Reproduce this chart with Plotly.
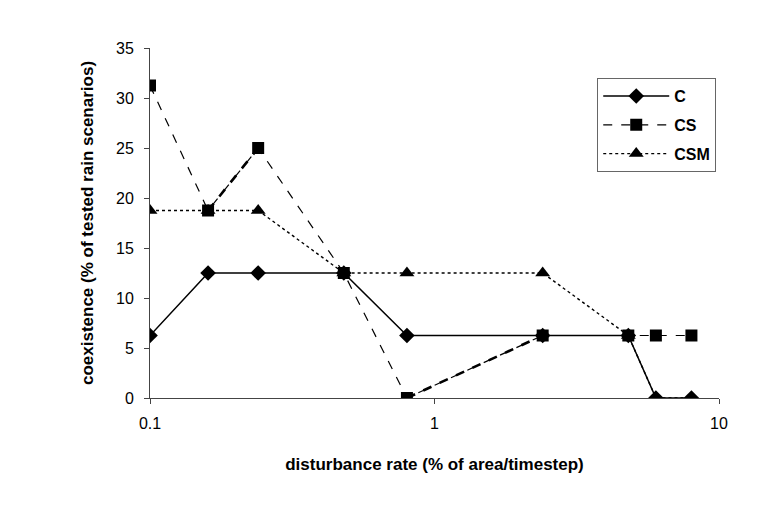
import plotly.graph_objects as go

rate = [0.1, 0.16, 0.24, 0.48, 0.8, 2.4, 4.8, 6, 8]
c_vals = [6.25, 12.5, 12.5, 12.5, 6.25, 6.25, 6.25, 0, 0]
cs_vals = [31.25, 18.75, 25, 12.5, 0, 6.25, 6.25, 6.25, 6.25]
csm_vals = [18.75, 18.75, 18.75, 12.5, 12.5, 12.5, 6.25, 0, 0]

fig = go.Figure()
fig.add_trace(go.Scatter(x=rate, y=csm_vals, name="CSM", mode="lines+markers",
                         legendgroup="g3", legendrank=3,
                         line=dict(color="black", width=1.4, dash="dot"),
                         marker=dict(symbol="triangle-up", size=13, color="black")))
fig.add_trace(go.Scatter(x=rate, y=cs_vals, name="CS", mode="lines+markers",
                         legendgroup="g2", legendrank=2,
                         line=dict(color="black", width=1.2, dash="dash"),
                         marker=dict(symbol="square", size=12, color="black")))
# heavier dashed stretches of the CS curve, as printed
for a, b in [(1, 3), (4, 6)]:
    fig.add_trace(go.Scatter(x=rate[a:b], y=cs_vals[a:b], mode="lines", showlegend=False,
                             legendgroup="g2",
                             line=dict(color="black", width=2.6, dash="dash"),
                             hoverinfo="skip"))
fig.add_trace(go.Scatter(x=rate, y=c_vals, name="C", mode="lines+markers",
                         legendgroup="g1", legendrank=1,
                         line=dict(color="black", width=1.5),
                         marker=dict(symbol="diamond", size=12, color="black")))

fig.update_layout(
    width=775, height=498,
    margin=dict(l=142, r=64, t=40, b=108),
    plot_bgcolor="white", paper_bgcolor="white",
    font=dict(family="Liberation Sans, Arial", size=16, color="black"),
    showlegend=True,
    legend=dict(x=0.786, y=0.914, xanchor="left", yanchor="top",
                traceorder="grouped", tracegroupgap=5,
                itemwidth=66,
                bordercolor="#666", borderwidth=1,
                font=dict(family="Liberation Sans, Arial", size=16, color="black", weight="bold"),
                bgcolor="white"),
    xaxis=dict(type="log", range=[-1, 1], tickvals=[0.1, 1, 10], ticktext=["0.1", "1", "10"],
               showgrid=False, zeroline=False, showline=True, linecolor="#444", linewidth=1,
               ticks="outside", ticklen=5, tickcolor="#444", ticklabelstandoff=6,
               title=dict(text="disturbance rate (% of area/timestep)",
                          font=dict(size=17, weight="bold"), standoff=26)),
    yaxis=dict(range=[0, 35], tickvals=[0, 5, 10, 15, 20, 25, 30, 35],
               showgrid=False, zeroline=False, showline=True, linecolor="#444", linewidth=1,
               ticks="outside", ticklen=5, tickcolor="#444", ticklabelstandoff=7,
               title=dict(text="coexistence (% of tested rain scenarios)",
                          font=dict(size=17, weight="bold"), standoff=18)),
)
fig.write_html("out.html")
